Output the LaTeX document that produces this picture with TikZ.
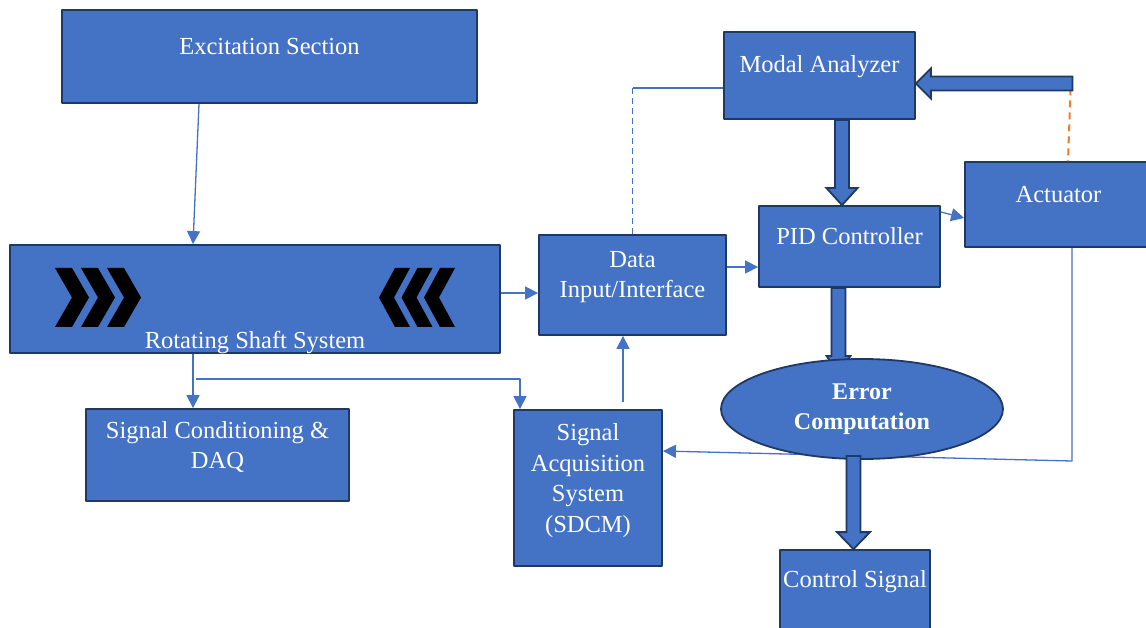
\documentclass[tikz,border=0pt]{standalone}
\usepackage{fontspec}
\setmainfont{Liberation Serif}
\usetikzlibrary{arrows.meta,calc,shapes.geometric}

\definecolor{boxblue}{HTML}{4472C4}
\definecolor{boxline}{HTML}{1F3864}
\definecolor{linkblue}{HTML}{4472C4}
\definecolor{fborange}{HTML}{ED7D31}

\tikzset{
	block/.style={draw=boxline, fill=boxblue, line width=1.8pt, inner sep=0pt},
	txt/.style={text=white, font=\fontsize{24.5}{30.5}\selectfont, align=center},
	txtb/.style={text=white, font=\bfseries\fontsize{24}{30}\selectfont, align=center},
	link/.style={draw=linkblue, line width=1.3pt, -{Triangle[length=13pt,width=13pt]}},
	fat/.style={draw=boxline, fill=boxblue, line width=1.8pt, line join=miter},
}

% fat arrow pointing down: [head half width]{tail}{tip}
\newcommand\fatdown[3][16]{%
	\draw[fat] let \p1=(#2), \p2=(#3) in
	(\x1-7pt,\y1) -- (\x1-7pt,\y2+17pt) -- (\x1-#1pt,\y2+17pt) -- (\x1,\y2)
	-- (\x1+#1pt,\y2+17pt) -- (\x1+7pt,\y2+17pt) -- (\x1+7pt,\y1) -- cycle;}
% fat arrow pointing left: {tail}{tip}
\newcommand\fatleft[2]{%
	\draw[fat] let \p1=(#1), \p2=(#2) in
	(\x1,\y1+7pt) -- (\x2+15pt,\y1+7pt) -- (\x2+15pt,\y1+15pt) -- (\x2,\y1)
	-- (\x2+15pt,\y1-15pt) -- (\x2+15pt,\y1-7pt) -- (\x1,\y1-7pt) -- cycle;}

\begin{document}
\begin{tikzpicture}[x=1pt, y=-1pt, line join=round]
	\useasboundingbox (0,0) rectangle (1146,628);
	
	% boxes
	\node[block, minimum width=415pt, minimum height=93pt,
	label={[txt,yshift=10]center:Excitation Section}] (excite) at (269.5,56.5) {};
	\node[block, minimum width=490pt, minimum height=108pt,
	label={[txt,yshift=-43.5]center:Rotating Shaft System}] (shaft) at (255,299) {};
	\node[block, minimum width=263pt, minimum height=92pt,
	label={[txt,yshift=8]center:{Signal Conditioning \&\\DAQ}}] (sigcond) at (217.5,455) {};
	\node[block, minimum width=187pt, minimum height=100pt,
	label={[txt,yshift=8]center:{Data\\Input/Interface}}] (datain) at (632.5,285) {};
	\node[block, minimum width=148pt, minimum height=156pt,
	label={[txt,yshift=7.5]center:{Signal\\Acquisition\\System\\(SDCM)}}] (sdcm) at (588,488) {};
	\node[block, minimum width=191pt, minimum height=87pt,
	label={[txt,yshift=8.5]center:Modal Analyzer}] (modal) at (819.5,75.5) {};
	\node[block, minimum width=181pt, minimum height=81pt,
	label={[txt,yshift=10.5]center:PID Controller}] (pid) at (849.5,246.5) {};
	\node[block, minimum width=187pt, minimum height=85pt,
	label={[txt,yshift=9.5]center:Actuator}] (act) at (1058.5,204.5) {};
	\node[block, minimum width=150pt, minimum height=90pt,
	label={[txt,yshift=13]center:Control Signal}] (ctrl) at (855,595) {};
	
	% chevrons on the shaft
	\foreach \i in {0,1,2} {
		\fill[black] ({55+26*\i},268) -- ++(17,0) -- ++(17,29.5) -- ++(-17,29.5)
		-- ++(-17,0) -- ++(17,-29.5) -- cycle;
		\fill[black] ({455-22.5*\i},268) -- ++(-15,0) -- ++(-16,29.5) -- ++(16,29.5)
		-- ++(15,0) -- ++(-16,-29.5) -- cycle;
	}
	
	% thin links
	\draw[link] ([xshift=-70.5]excite.south) -- ([xshift=-62]shaft.north);
	\coordinate (s-out) at ([xshift=-62]shaft.south);
	\draw[link] (s-out) -- (s-out |- sigcond.north);
	\coordinate (tap) at (196,379);
	\coordinate (sd-in) at ([xshift=-68]sdcm.north);
	\draw[link] (tap) -- (tap -| sd-in) -- (sd-in);
	\draw[link] (shaft.east) ++(0,-6) coordinate (s-r) -- (s-r -| datain.west);
	\draw[link] (sdcm.north) ++(35,-7) coordinate (sd-up) -- (sd-up |- datain.south);
	\draw[link] (datain.east) ++(0,-18) coordinate (d-r) -- (d-r -| pid.west);
	\draw[link] ([yshift=34.5]pid.east) -- ([yshift=-13.5]act.west);
	
	\coordinate (m-in) at ([yshift=-12.5]modal.west);
	\draw[linkblue, line width=1.5pt, dash pattern=on 6pt off 4pt] (datain.north) -- (datain.north |- m-in);
	\draw[linkblue, line width=1.3pt] (datain.north |- m-in) -- (m-in);
	
	\coordinate (a-dn) at (1072,461);
	\draw[link] (a-dn |- act.south) -- (a-dn) -- ([yshift=37]sdcm.east);
	
	% feedback into the analyzer
	\coordinate (fb) at (1072.5,83.5);
	\draw[fborange, line width=2pt, dash pattern=on 7pt off 5pt] ([xshift=-1.5,yshift=7]fb) -- ([xshift=9.5]act.north);
	\fatleft{fb}{modal.east}
	
	\fatdown[15.5]{[xshift=22.5]modal.south}{pid.north}
	\fatdown[12]{[xshift=-11]pid.south}{[yshift=-85]pid.south}
	
	\node[ellipse, draw=boxline, fill=boxblue, line width=1.8pt, minimum width=282pt,
	minimum height=100pt, inner sep=0pt, txtb] (err) at (862,409) {Error\\Computation};
	
	\fatdown[16.5]{[xshift=-8.5,yshift=4]err.south}{ctrl.north}
\end{tikzpicture}
\end{document}
